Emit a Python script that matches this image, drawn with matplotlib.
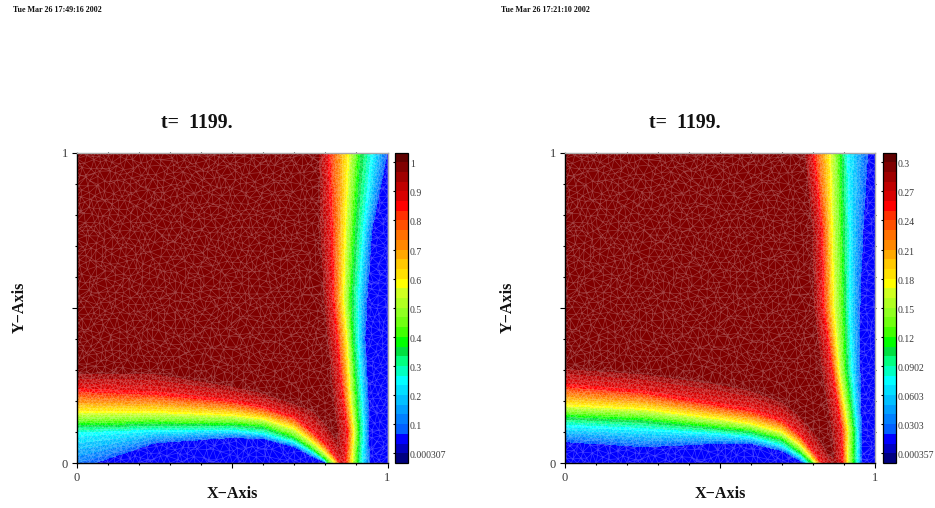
import numpy as np
import matplotlib
matplotlib.use("Agg")
import matplotlib.pyplot as plt
import matplotlib.tri as mtri
from matplotlib.colors import ListedColormap, BoundaryNorm
from matplotlib.transforms import ScaledTranslation

plt.rcParams['font.family'] = ['Liberation Serif', 'DejaVu Serif']

W, H = 935, 508
band_colors = ['#000080', '#0000c0', '#0000ff', '#0060ff', '#0080ff', '#00a0ff', '#00c0ff', '#00e0ff',
               '#00ffff', '#00ffc0', '#00ff80', '#00e040', '#00ff00', '#40ff00', '#70ff10', '#90ff20',
               '#b0ff20', '#d0ff20', '#ffff00', '#ffe000', '#ffc800', '#ffa800', '#ff8800', '#ff7000',
               '#ff5000', '#ff3000', '#ff0000', '#d80000', '#c00000', '#a00000', '#800000', '#600000']

# Left panel: bottom front, y position of each level against x
left_bottom_x = [0, .25, .5, .6, .7, .76, .80, .83, .87, 1]
left_bottom_y = {
    0.067: [-.02, .064, .082, .078, .052, .020, .003, -.08, -.12, -.20],
    0.25:  [.096, .106, .106, .095, .068, .035, .008, -.05, -.10, -.18],
    0.385: [.128, .130, .128, .120, .084, .046, .014, -.02, -.08, -.16],
    0.58:  [.165, .165, .155, .143, .112, .068, .035, .005, -.06, -.14],
    0.85:  [.235, .224, .200, .180, .148, .100, .062, .025, -.03, -.12],
    0.99:  [.300, .300, .257, .234, .200, .180, .137, .095, .040, -.10],
}
# Left panel: right front, x position of each level against y
left_right_y = [0, .1, .2, .4, .525, .75, 1]
left_right_x = {
    0.99:  [.825, .832, .82, .80, .788, .775, .772],
    0.85:  [.863, .870, .857, .837, .825, .820, .810],
    0.58:  [.885, .890, .880, .868, .857, .863, .873],
    0.385: [.900, .905, .898, .885, .880, .890, .906],
    0.25:  [.917, .922, .917, .905, .905, .922, .950],
    0.067: [.943, .938, .938, .928, .934, .950, 1.00],
}
# Right panel: same tables
right_bottom_x = [0, .25, .5, .6, .7, .76, .78, .81, .85, 1]
right_bottom_y = {
    0.067: [.068, .052, .062, .062, .039, .006, -.01, -.08, -.12, -.20],
    0.25:  [.121, .110, .094, .084, .057, .021, .003, -.03, -.10, -.18],
    0.385: [.154, .143, .116, .105, .078, .035, .017, -.01, -.08, -.16],
    0.58:  [.186, .175, .143, .127, .100, .057, .035, -.001, -.06, -.14],
    0.85:  [.250, .229, .186, .170, .137, .089, .062, .025, -.03, -.12],
    0.99:  [.315, .298, .266, .245, .207, .159, .135, .100, .040, -.10],
}
right_right_y = [0, .1, .3, .5, .75, 1]
right_right_x = {
    0.99:  [.860, .852, .820, .795, .790, .765],
    0.85:  [.893, .891, .859, .832, .827, .799],
    0.58:  [.909, .910, .881, .864, .859, .853],
    0.385: [.927, .928, .902, .896, .891, .886],
    0.25:  [.941, .940, .923, .915, .915, .910],
    0.067: [.955, .955, .950, .950, .960, .976],
}

panels = [
    dict(left=77, date='Tue Mar 26 17:49:16 2002', top=1.0, tick0=0.000307,
         cb_labels=['0.000307', '0.1', '0.2', '0.3', '0.4', '0.5', '0.6', '0.7', '0.8', '0.9', '1'],
         bx=left_bottom_x, by=left_bottom_y, ry=left_right_y, rx=left_right_x),
    dict(left=565, date='Tue Mar 26 17:21:10 2002', top=0.3, tick0=0.000357,
         cb_labels=['0.000357', '0.0303', '0.0603', '0.0902', '0.12', '0.15', '0.18', '0.21', '0.24', '0.27', '0.3'],
         bx=right_bottom_x, by=right_bottom_y, ry=right_right_y, rx=right_right_x),
]


def field(X, Y, p):
    lv = sorted(p['by'])
    lv_arr = np.array(lv)
    x, y = np.ravel(X), np.ravel(Y)
    b_pos = np.stack([np.interp(x, p['bx'], p['by'][l]) for l in lv], axis=1)
    r_pos = np.stack([np.interp(y, p['ry'], p['rx'][l]) for l in lv], axis=1)
    res_b = np.empty(x.size)
    res_r = np.empty(x.size)
    for i in range(x.size):
        res_b[i] = np.interp(y[i], b_pos[i], lv_arr, left=0.05, right=0.99)
        res_r[i] = np.interp(x[i], r_pos[i][::-1], lv_arr[::-1], left=0.99, right=0.05)
    return np.minimum(res_b, res_r).reshape(np.shape(X))


def lattice(s, phase):
    """Hexagonal lattice; every node gets a fixed shift from a sine hash of its index."""
    pts = []
    ny = int(1 / (s * 0.866)) + 1
    nx = int(1 / s) + 1
    k = phase
    for j in range(ny + 1):
        for i in range(nx + 1):
            k += 1
            dx = ((np.sin(k * 12.9898) * 43758.5453) % 1 - .5) * s * .85
            dy = ((np.sin(k * 78.233) * 24634.6345) % 1 - .5) * s * .85
            x = (i + .5 * (j % 2)) * s + dx
            y = j * s * .866 + dy
            if 0.004 < x < .996 and 0.004 < y < .996:
                pts.append((x, y))
    return np.array(pts)


def edge_points(n):
    t = np.linspace(0, 1, n + 1)
    return np.column_stack([t, 0 * t]), np.column_stack([t, 0 * t + 1]), np.column_stack([0 * t, t]), np.column_stack([0 * t + 1, t])


fig = plt.figure(figsize=(W / 100, H / 100), dpi=100)
cmap = ListedColormap(band_colors)
TEXT = '#3a3a3a'


def axpx(l, t, w, h):
    return [l / W, 1 - (t + h) / H, w / W, h / H]


grid = np.linspace(0, 1, 420)
GX, GY = np.meshgrid(grid, grid)

for p in panels:
    L = p['left']
    ax = fig.add_axes(axpx(L, 152.5, 310.5, 310.5))
    top = p['top']
    step = (top - p['tick0']) / 30
    edges = p['tick0'] + step * (np.arange(33) - 1)
    F = field(GX, GY, p) * top
    ax.contourf(GX, GY, F, levels=edges, colors=band_colors, antialiased=False)

    coarse = lattice(.022, 0)
    fine = lattice(.0115, 7)
    vc = field(coarse[:, 0], coarse[:, 1], p)
    vf = field(fine[:, 0], fine[:, 1], p)
    keep_c = (vc >= .985) | (vc <= .055)
    keep_f = (vf < .98) & (vf > .06)
    pts = np.vstack([coarse[keep_c], fine[keep_f], *edge_points(50)])
    tri = mtri.Triangulation(pts[:, 0], pts[:, 1])
    ax.triplot(tri, color=(1, 1, 1, .26), lw=.45)

    ax.set_xlim(0, 1)
    ax.set_ylim(0, 1)
    ax.set_xticks([0, .5, 1])
    ax.set_yticks([0, .5, 1])
    ax.set_xticklabels(['0', '', '1'])
    ax.set_yticklabels(['0', '', '1'])
    ax.set_xticks(np.arange(1, 10) / 10, minor=True)
    ax.set_yticks(np.arange(1, 10) / 10, minor=True)
    ax.tick_params(which='major', length=3.5, width=.8, color='black', labelsize=9, labelcolor=TEXT, pad=3)
    ax.tick_params(which='minor', length=1.5, width=.8, color='black')
    for spine, c in (('left', 'black'), ('bottom', 'black'), ('top', '#aaaaaa'), ('right', '#aaaaaa')):
        ax.spines[spine].set_color(c)
        ax.spines[spine].set_linewidth(1.0)

    # small inward ticks on the top and right edges
    sec_x = ax.secondary_xaxis('top')
    sec_y = ax.secondary_yaxis('right')
    for sec, axis in ((sec_x, 'x'), (sec_y, 'y')):
        if axis == 'x':
            sec.set_xticks(np.arange(1, 10) / 10, labels=[''] * 9)
        else:
            sec.set_yticks(np.arange(1, 10) / 10, labels=[''] * 9)
        sec.tick_params(direction='in', length=1.5, width=.8, color='black')
        for s in sec.spines.values():
            s.set_visible(False)

    # colour bar
    cax = fig.add_axes(axpx(L + 318, 152.5, 12.7, 310.5))
    norm = BoundaryNorm(edges, cmap.N)
    sm = plt.cm.ScalarMappable(norm=norm, cmap=cmap)
    cb = fig.colorbar(sm, cax=cax, spacing='proportional', drawedges=False)
    ticks = p['tick0'] + step * np.arange(0, 31, 3)
    cb.set_ticks(ticks, labels=p['cb_labels'])
    cb.minorticks_off()
    cax.tick_params(axis='y', which='major', left=True, right=False, labelleft=False, labelright=True,
                    length=1.5, width=.8, labelsize=7, labelcolor=TEXT, pad=0.2)
    for lab in cax.get_yticklabels():
        lab.set_transform(lab.get_transform() + ScaledTranslation(0, -1.5 / 100, fig.dpi_scale_trans))
    cb.outline.set_edgecolor('black')
    cb.outline.set_linewidth(.9)

    fig.text((L + 120) / W, 1 - 122.5 / H, 't=  1199.', fontsize=14.3, fontweight='bold', color='#111111', ha='center', va='center')
    fig.text((L + 155) / W, 1 - 494.5 / H, 'X\u2212Axis', fontsize=11.6, fontweight='bold', color='#111111', ha='center', va='center')
    fig.text((L - 57.5) / W, 1 - 307 / H, 'Y\u2212Axis', fontsize=11.6, fontweight='bold', color='#111111', ha='center', va='center', rotation=90)
    fig.text((L - 64) / W, 1 - 10.5 / H, p['date'], fontsize=5.75, fontweight='bold', color='#111111', ha='left', va='center')

fig.savefig('out.png', dpi=100)
